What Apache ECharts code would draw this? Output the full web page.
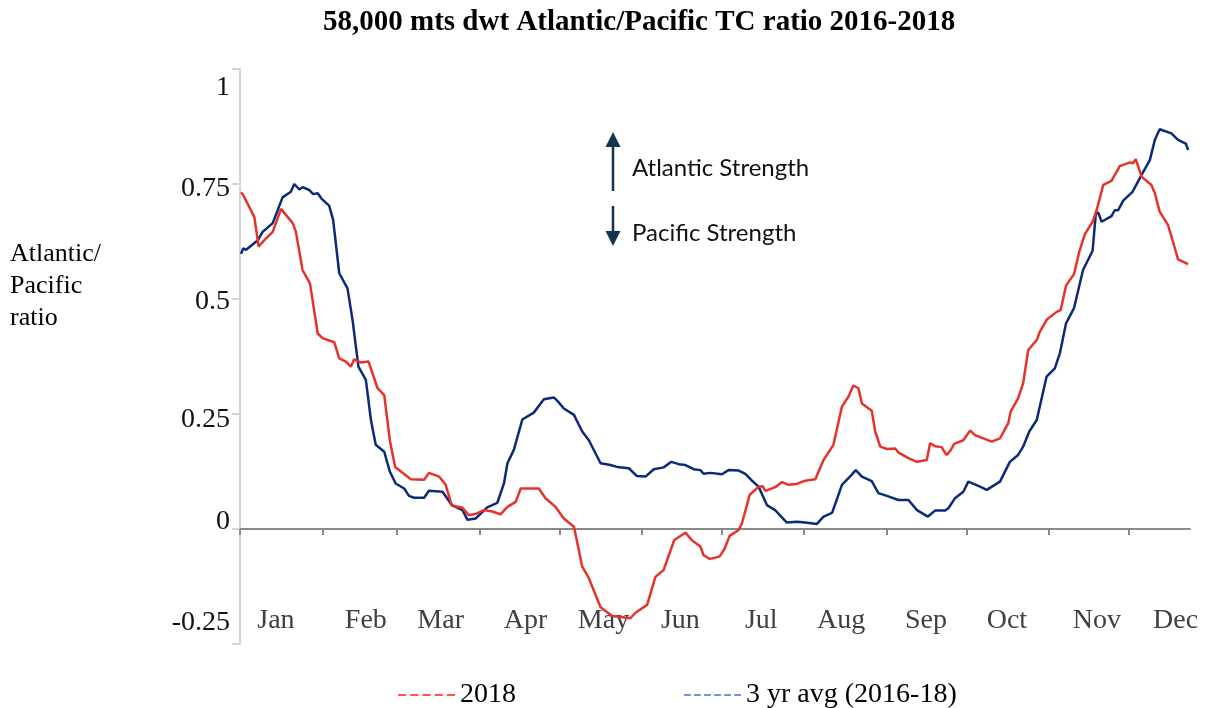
<!DOCTYPE html>
<html>
<head>
<meta charset="utf-8">
<script src="https://cdn.jsdelivr.net/npm/echarts@6/dist/echarts.min.js"></script>
<style>html,body{margin:0;padding:0;background:#fff}#c{width:1208px;height:708px}</style>
</head>
<body>
<div id="c"></div>
<script>
// ---- data (x = day of year 2018, y = Atlantic/Pacific ratio) ----
const title = '58,000 mts dwt Atlantic/Pacific TC ratio 2016-2018';
const seriesNames = ['2018', '3 yr avg (2016-18)'];
const monthNames = ['Jan','Feb','Mar','Apr','May','Jun','Jul','Aug','Sep','Oct','Nov','Dec'];
const monthStartDays = [0,31,59,90,120,151,181,212,243,273,304,334];
const monthLabelDays = [13.5,47.3,75.4,107.3,136.6,165.5,195.9,225.9,257.8,288.2,322.0,351.6];
const yTicks = [-0.25, 0, 0.25, 0.5, 0.75, 1];

const red2018 = [
[0.4,0.732],[1.2,0.726],[5.4,0.678],[7.0,0.614],[7.9,0.620],[9.8,0.632],[12.3,0.646],[15.4,0.696],[16.0,0.693],[19.8,0.665],[21.0,0.646],[23.5,0.563],[26.3,0.534],[29.2,0.425],[31.0,0.415],[35.4,0.406],[37.3,0.371],[39.8,0.364],[41.7,0.353],[42.9,0.369],[45.4,0.362],[48.3,0.364],[51.7,0.306],[54.2,0.291],[56.3,0.193],[58.3,0.135],[64.2,0.108],[69.2,0.107],[71.0,0.122],[74.8,0.114],[77.3,0.096],[79.6,0.051],[83.6,0.046],[86.0,0.030],[88.6,0.033],[91.7,0.041],[94.8,0.038],[97.9,0.032],[100.5,0.048],[103.6,0.059],[105.5,0.088],[108.6,0.088],[112.3,0.088],[114.8,0.067],[118.6,0.048],[121.7,0.023],[125.5,0.005],[128.6,-0.082],[131.1,-0.107],[135.5,-0.170],[139.9,-0.189],[146.7,-0.194],[148.6,-0.182],[153.0,-0.165],[156.1,-0.104],[159.2,-0.089],[163.2,-0.024],[167.4,-0.008],[169.9,-0.025],[173.0,-0.038],[174.2,-0.057],[176.5,-0.065],[180.2,-0.060],[182.1,-0.043],[184.0,-0.015],[187.4,-0.002],[188.6,0.012],[190.5,0.052],[191.5,0.074],[194.9,0.092],[196.4,0.093],[197.4,0.083],[201.1,0.091],[203.7,0.102],[206.1,0.096],[209.3,0.098],[212.4,0.105],[216.2,0.108],[219.3,0.150],[223.0,0.183],[226.2,0.266],[228.7,0.288],[230.5,0.312],[232.4,0.306],[233.7,0.273],[237.4,0.257],[238.7,0.212],[240.6,0.179],[243.1,0.174],[246.2,0.175],[247.5,0.166],[251.2,0.154],[254.4,0.146],[258.1,0.150],[259.3,0.186],[261.2,0.180],[263.7,0.178],[264.9,0.166],[265.6,0.161],[266.9,0.170],[268.4,0.185],[271.8,0.193],[274.4,0.214],[276.2,0.204],[279.3,0.197],[282.5,0.190],[285.6,0.197],[288.7,0.230],[289.6,0.255],[292.4,0.284],[294.3,0.317],[296.2,0.389],[299.4,0.411],[300.6,0.429],[303.3,0.456],[306.9,0.472],[308.4,0.476],[310.4,0.529],[313.4,0.554],[315.4,0.603],[317.5,0.641],[320.4,0.668],[321.9,0.693],[324.4,0.748],[327.5,0.757],[330.6,0.789],[334.4,0.797],[335.6,0.795],[336.6,0.804],[338.8,0.766],[342.5,0.748],[343.8,0.730],[345.6,0.690],[348.7,0.661],[350.6,0.625],[352.5,0.586],[356.3,0.576]
];

const avg3yr = [
[0.4,0.598],[1.2,0.610],[2.3,0.607],[6.6,0.627],[8.5,0.646],[12.3,0.665],[16.0,0.721],[19.1,0.733],[20.4,0.750],[22.3,0.738],[23.5,0.743],[26.0,0.737],[27.5,0.728],[29.2,0.730],[30.8,0.717],[33.5,0.703],[35.0,0.672],[37.3,0.556],[40.4,0.523],[42.3,0.454],[44.5,0.353],[47.3,0.324],[49.2,0.237],[51.0,0.183],[54.2,0.168],[56.3,0.125],[58.5,0.099],[61.7,0.088],[63.5,0.072],[65.4,0.068],[69.2,0.068],[71.0,0.083],[76.1,0.081],[79.6,0.052],[83.6,0.041],[85.5,0.020],[88.6,0.023],[92.9,0.047],[96.7,0.057],[99.2,0.099],[100.5,0.143],[102.9,0.172],[106.1,0.238],[110.4,0.253],[114.2,0.282],[117.9,0.286],[119.2,0.279],[121.7,0.262],[125.5,0.248],[128.6,0.212],[131.1,0.193],[135.5,0.143],[139.2,0.139],[141.7,0.135],[146.1,0.132],[149.2,0.115],[152.4,0.114],[155.5,0.130],[159.2,0.134],[162.1,0.146],[164.9,0.141],[167.4,0.139],[170.5,0.130],[173.0,0.128],[174.2,0.120],[176.8,0.122],[181.1,0.119],[183.6,0.128],[187.4,0.127],[189.9,0.120],[192.4,0.105],[194.9,0.092],[198.0,0.052],[201.1,0.041],[205.5,0.014],[209.3,0.016],[212.4,0.014],[216.8,0.011],[219.3,0.027],[222.5,0.035],[226.2,0.096],[229.4,0.115],[231.4,0.128],[233.7,0.114],[237.4,0.104],[239.9,0.078],[243.1,0.072],[247.4,0.063],[251.2,0.063],[254.4,0.041],[258.5,0.027],[261.2,0.040],[264.9,0.040],[266.2,0.045],[268.7,0.067],[271.8,0.081],[273.7,0.103],[278.1,0.092],[280.6,0.085],[285.6,0.103],[289.3,0.146],[292.4,0.161],[294.3,0.179],[296.6,0.212],[299.4,0.237],[303.1,0.331],[306.2,0.349],[308.1,0.382],[310.4,0.447],[313.4,0.480],[316.8,0.563],[320.4,0.605],[321.6,0.685],[322.5,0.688],[323.8,0.668],[327.5,0.680],[328.7,0.693],[330.0,0.693],[331.9,0.714],[335.4,0.733],[338.8,0.770],[341.9,0.802],[343.8,0.846],[345.6,0.869],[350.0,0.860],[352.5,0.846],[355.4,0.838],[356.3,0.824]
];

// ---- chart ----
const SERIF = '"Liberation Serif", "Times New Roman", serif';
const SANS = 'Lato, "Noto Sans", sans-serif';
const chart = echarts.init(document.getElementById('c'), null, {renderer: 'canvas'});

// vertical nudges of the y labels (as in the original layout)
const yLabelStyle = {'-0.25': 'm21', '0': 'm7', '0.25': 'p6', '0.5': 'p3', '0.75': 'p5', '1': 'p19'};
function padStyle(n, down) {
  return {fontFamily: SERIF, fontSize: 28, color: '#111', padding: down ? [2*n,0,0,0] : [0,0,2*n,0]};
}
const dash5 = 'path://M0,0h80v15h-80z M120,0h80v15h-80z M240,0h80v15h-80z M360,0h80v15h-80z M480,0h80v15h-80z';
const dash6 = 'path://M0,0h70v15h-70z M104,0h70v15h-70z M208,0h70v15h-70z M312,0h70v15h-70z M416,0h70v15h-70z M520,0h70v15h-70z';

function monthFormatter(v) {
  let best = 0;
  monthLabelDays.forEach((d, k) => { if (Math.abs(d - v) < Math.abs(monthLabelDays[best] - v)) best = k; });
  return monthNames[best];
}

chart.setOption({
  animation: false,
  backgroundColor: '#fff',
  title: {
    text: title, left: 318, top: 3,
    textStyle: {fontFamily: SERIF, fontWeight: 'bold', fontSize: 29, color: '#000'}
  },
  grid: {left: 240, right: 18, top: 69, bottom: 64, containLabel: false, outerBoundsMode: 'none'},
  legend: {
    left: 393, top: 676, itemWidth: 57, itemHeight: 2, itemGap: 168,
    textStyle: {fontFamily: SERIF, fontSize: 28, color: '#000'},
    data: [
      {name: seriesNames[0], icon: dash5, itemStyle: {color: '#ff1a1a'}},
      {name: seriesNames[1], icon: dash6, itemStyle: {color: '#4472c4'}}
    ]
  },
  xAxis: [{
    type: 'value', min: 0, max: 357,
    splitLine: {show: false},
    axisLine: {show: true, onZero: true, lineStyle: {color: '#8a8a8a', width: 2}},
    axisTick: {show: true, length: 6, inside: false, customValues: monthStartDays, lineStyle: {color: '#8a8a8a', width: 2}},
    axisLabel: {show: false}
  }, {
    type: 'value', min: 0, max: 357, position: 'bottom',
    splitLine: {show: false},
    axisLine: {show: false, onZero: false},
    axisTick: {show: false},
    axisLabel: {
      show: true, inside: true, customValues: monthLabelDays, margin: 9,
      fontFamily: SERIF, fontSize: 28, color: '#404040',
      showMinLabel: true, showMaxLabel: true, hideOverlap: false,
      formatter: monthFormatter
    }
  }],
  yAxis: {
    type: 'value', min: -0.25, max: 1, interval: 0.25,
    splitLine: {show: false},
    axisLine: {show: true, onZero: false, lineStyle: {color: '#d4d4d4', width: 2}},
    axisTick: {show: true, length: 8, lineStyle: {color: '#d4d4d4', width: 2}},
    axisLabel: {
      margin: 10,
      formatter: function (v) {
        const key = String(Math.round(v * 100) / 100);
        const st = yLabelStyle[key] || 'p3';
        return '{' + st + '|' + key + '}';
      },
      rich: {
        m21: padStyle(21, false), m7: padStyle(7, false),
        p6: padStyle(6, true), p3: padStyle(3, true), p5: padStyle(5, true), p19: padStyle(19, true)
      }
    }
  },
  series: [
    {name: seriesNames[0], type: 'line', data: red2018, symbol: 'none', smooth: false, xAxisIndex: 0,
     lineStyle: {color: '#e5332a', width: 2.5}, itemStyle: {color: '#e5332a'}, z: 3},
    {name: seriesNames[1], type: 'line', data: avg3yr, symbol: 'none', smooth: false, xAxisIndex: 0,
     lineStyle: {color: '#0c2a78', width: 2.5}, itemStyle: {color: '#0c2a78'}, z: 2}
  ],
  graphic: [
    {type: 'text', left: 10, top: 238, style: {text: 'Atlantic/\nPacific\nratio', font: '26px ' + SERIF, lineHeight: 32, fill: '#000'}},
    {type: 'line', shape: {x1: 613, y1: 144, x2: 613, y2: 191}, style: {stroke: '#123650', lineWidth: 2.5}},
    {type: 'polygon', shape: {points: [[613, 132], [605.5, 147], [620.5, 147]]}, style: {fill: '#123650'}},
    {type: 'line', shape: {x1: 613, y1: 206, x2: 613, y2: 234}, style: {stroke: '#123650', lineWidth: 2.5}},
    {type: 'polygon', shape: {points: [[613, 246], [605.5, 231], [620.5, 231]]}, style: {fill: '#123650'}},
    {type: 'text', left: 632, top: 156, style: {text: 'Atlantic Strength', font: '24px ' + SANS, fill: '#111'}},
    {type: 'text', left: 632, top: 221, style: {text: 'Pacific Strength', font: '24px ' + SANS, fill: '#111'}}
  ]
});
</script>
</body>
</html>
